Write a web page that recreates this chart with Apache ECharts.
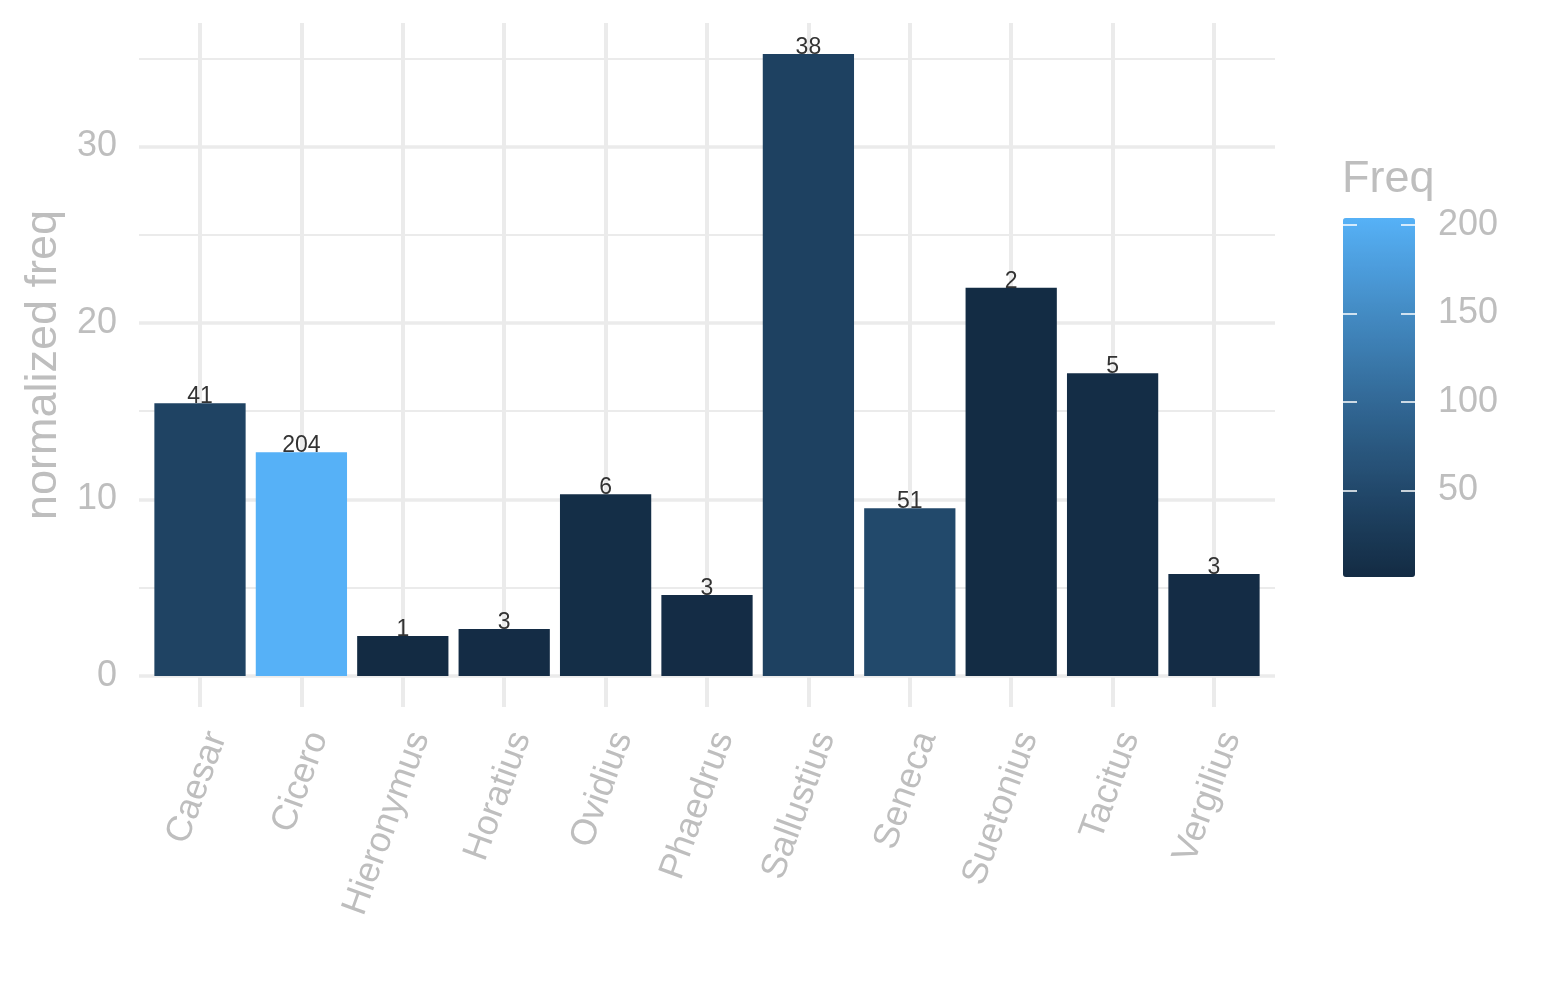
<!DOCTYPE html>
<html>
<head>
<meta charset="utf-8">
<title>normalized freq</title>
<script src="https://cdn.jsdelivr.net/npm/echarts@6/dist/echarts.min.js"></script>
<style>
  html, body { margin: 0; padding: 0; background: #fff; }
  #chart { width: 1545px; height: 1000px; }
</style>
</head>
<body>
<div id="chart"></div>
<script>
// data
const authors = ['Caesar', 'Cicero', 'Hieronymus', 'Horatius', 'Ovidius', 'Phaedrus',
  'Sallustius', 'Seneca', 'Suetonius', 'Tacitus', 'Vergilius']
const normFreq = [15.45, 12.68, 2.26, 2.66, 10.3, 4.58, 35.24, 9.5, 22.0, 17.15, 5.77]
const freq = [41, 204, 1, 3, 6, 3, 38, 51, 2, 5, 3]
const legendTicks = [50, 100, 150, 200]

const FONT = 'Liberation Sans, Arial, Helvetica, sans-serif'
const GREY = '#BEBEBE'
const GRID = '#EBEBEB'

// ggplot-style gradient: interpolate low -> high in Lab space
function hexToRgb(h) {
  const n = parseInt(h.slice(1), 16)
  return [(n >> 16) & 255, (n >> 8) & 255, n & 255]
}
function toLab(rgb) {
  const lin = rgb.map(c => {
    c /= 255
    return c <= 0.04045 ? c / 12.92 : Math.pow((c + 0.055) / 1.055, 2.4)
  })
  const x = (0.4124564 * lin[0] + 0.3575761 * lin[1] + 0.1804375 * lin[2]) / 0.95047
  const y = 0.2126729 * lin[0] + 0.7151522 * lin[1] + 0.0721750 * lin[2]
  const z = (0.0193339 * lin[0] + 0.1191920 * lin[1] + 0.9503041 * lin[2]) / 1.08883
  const f = t => (t > 0.008856 ? Math.cbrt(t) : 7.787 * t + 16 / 116)
  return [116 * f(y) - 16, 500 * (f(x) - f(y)), 200 * (f(y) - f(z))]
}
function fromLab(lab) {
  const fy = (lab[0] + 16) / 116
  const fx = fy + lab[1] / 500
  const fz = fy - lab[2] / 200
  const inv = t => (t * t * t > 0.008856 ? t * t * t : (t - 16 / 116) / 7.787)
  const x = inv(fx) * 0.95047, y = inv(fy), z = inv(fz) * 1.08883
  const lin = [
    3.2404542 * x - 1.5371385 * y - 0.4985314 * z,
    -0.9692660 * x + 1.8760108 * y + 0.0415560 * z,
    0.0556434 * x - 0.2040259 * y + 1.0572252 * z
  ]
  const c = lin.map(v => {
    v = v <= 0.0031308 ? 12.92 * v : 1.055 * Math.pow(v, 1 / 2.4) - 0.055
    return Math.max(0, Math.min(255, Math.round(v * 255)))
  })
  return 'rgb(' + c.join(',') + ')'
}
function labRamp(lo, hi, n) {
  const a = toLab(hexToRgb(lo)), b = toLab(hexToRgb(hi))
  const out = []
  for (let i = 0; i <= n; i++) {
    const t = i / n
    out.push(fromLab([0, 1, 2].map(k => a[k] + (b[k] - a[k]) * t)))
  }
  return out
}

const maxVal = Math.max(...normFreq)
const yMin = -maxVal * 0.05
const yMax = maxVal * 1.05
const freqMin = Math.min(...freq)
const freqMax = Math.max(...freq)

// white ticks across the colour bar edges
const legendTick = {
  show: true,
  length: 14,
  customValues: legendTicks,
  lineStyle: { color: '#fff', width: 1.5 }
}

const chart = echarts.init(document.getElementById('chart'))

const option = {
  backgroundColor: '#fff',
  animation: false,
  textStyle: { fontFamily: FONT },
  title: {
    text: 'Freq',
    left: 1337,
    top: 152,
    textStyle: { fontFamily: FONT, fontSize: 45, fontWeight: 'normal', color: GREY }
  },
  grid: [
    // panel background: horizontal grid lines, y labels
    { left: 139, right: 270, top: 23, bottom: 293, outerBoundsMode: 'none' },
    // bars, one category per vertical grid line
    { left: 200, right: 331, top: 23, bottom: 293, outerBoundsMode: 'none' },
    // colour bar ticks and labels
    { left: 1343, top: 218, width: 72, height: 359, outerBoundsMode: 'none' }
  ],
  xAxis: [
    { gridIndex: 0, type: 'value', show: false },
    {
      gridIndex: 1,
      type: 'category',
      data: authors,
      boundaryGap: false,
      axisLine: { show: false },
      axisTick: { show: false },
      axisLabel: {
        rotate: 70,
        margin: 20,
        verticalAlign: 'top',
        fontSize: 36,
        color: GREY,
        fontFamily: FONT,
        interval: 0
      },
      splitLine: { show: true, lineStyle: { color: GRID, width: 4 } }
    },
    { gridIndex: 2, type: 'value', show: false }
  ],
  yAxis: [
    {
      gridIndex: 0,
      type: 'value',
      min: yMin,
      max: yMax,
      name: 'normalized freq',
      nameLocation: 'middle',
      nameGap: 73,
      nameTextStyle: { fontSize: 45, color: GREY, fontFamily: FONT },
      axisLine: { show: false },
      axisTick: { show: false },
      minorTick: { show: false, splitNumber: 2 },
      axisLabel: {
        fontSize: 36,
        color: GREY,
        fontFamily: FONT,
        margin: 22,
        padding: [4, 0, 0, 0],
        showMinLabel: false,
        showMaxLabel: false
      },
      splitLine: {
        show: true,
        showMinLine: false,
        showMaxLine: false,
        lineStyle: { color: GRID, width: 3.5 }
      },
      minorSplitLine: { show: true, lineStyle: { color: GRID, width: 2 } }
    },
    { gridIndex: 1, type: 'value', min: yMin, max: yMax, show: false },
    {
      // legend labels
      gridIndex: 2,
      type: 'value',
      min: freqMin,
      max: freqMax,
      position: 'right',
      axisLine: { show: false },
      splitLine: { show: false },
      axisTick: { show: false },
      axisLabel: {
        customValues: legendTicks,
        fontSize: 36,
        color: GREY,
        fontFamily: FONT,
        margin: 23,
        padding: [6, 0, 0, 0]
      }
    },
    {
      // left-edge ticks
      gridIndex: 2,
      type: 'value',
      min: freqMin,
      max: freqMax,
      position: 'left',
      z: 10,
      axisLine: { show: false },
      splitLine: { show: false },
      axisLabel: { show: false },
      axisTick: Object.assign({ inside: true }, legendTick)
    },
    {
      // right-edge ticks
      gridIndex: 2,
      type: 'value',
      min: freqMin,
      max: freqMax,
      position: 'left',
      offset: -72,
      z: 10,
      axisLine: { show: false },
      splitLine: { show: false },
      axisLabel: { show: false },
      axisTick: Object.assign({ inside: false }, legendTick)
    }
  ],
  visualMap: {
    type: 'continuous',
    seriesIndex: 0,
    dimension: 2,
    min: freqMin,
    max: freqMax,
    calculable: false,
    left: 1343,
    top: 218,
    itemWidth: 72,
    itemHeight: 359,
    padding: 0,
    text: null,
    inRange: { color: labRamp('#132B43', '#56B1F7', 20) }
  },
  series: [
    {
      type: 'bar',
      xAxisIndex: 1,
      yAxisIndex: 1,
      barWidth: '90%',
      clip: false,
      encode: { x: 0, y: 1 },
      data: authors.map((a, i) => [a, normFreq[i], freq[i]]),
      label: {
        show: true,
        position: 'top',
        distance: -5,
        fontSize: 23,
        color: '#333',
        fontFamily: FONT,
        formatter: p => String(p.value[2])
      }
    }
  ]
}

chart.setOption(option)
</script>
</body>
</html>
